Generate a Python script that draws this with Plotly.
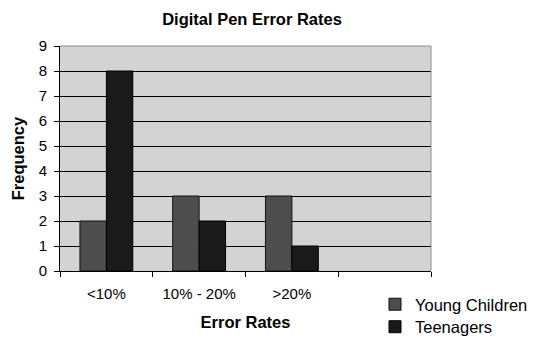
import plotly.graph_objects as go

# Error-rate bins on the x axis; the last slot is an empty spacer bin
categories = ["<10%", "10% - 20%", ">20%"]
axis_categories = categories + [" "]

young_children = [2, 3, 3]
teenagers = [8, 2, 1]

y_ticks = list(range(0, 10))

FONT = "Arial, 'Liberation Sans', Helvetica, sans-serif"
W, H = 536, 338

fig = go.Figure()
fig.add_trace(go.Bar(
    name="Young Children", x=categories, y=young_children,
    marker=dict(color="#4d4d4d", line=dict(color="#111111", width=1)),
    legend="legend",
))
fig.add_trace(go.Bar(
    name="Teenagers", x=categories, y=teenagers,
    marker=dict(color="#1a1a1a", line=dict(color="#000000", width=1)),
    legend="legend2",
))

legend_style = dict(
    xref="container", yref="container", xanchor="left", yanchor="middle",
    font=dict(family=FONT, size=16.5, color="#000000"),
    bgcolor="rgba(0,0,0,0)", borderwidth=0,
)

fig.update_layout(
    width=W, height=H,
    margin=dict(l=60, r=105, t=46, b=67, autoexpand=False),
    paper_bgcolor="white",
    plot_bgcolor="#d3d3d3",
    font=dict(family=FONT, size=15, color="#000000"),
    barmode="group",
    bargap=0.43,
    bargroupgap=0,
    title=dict(
        text="<b>Digital Pen Error Rates</b>",
        font=dict(family=FONT, size=16.5, color="#000000"),
        x=252 / W, xanchor="center", xref="container",
        y=1 - 19 / H, yanchor="middle", yref="container",
    ),
    legend=dict(x=375 / W, y=1 - 304.5 / H, **legend_style),
    legend2=dict(x=375 / W, y=1 - 327 / H, **legend_style),
    showlegend=True,
)

fig.update_xaxes(
    type="category",
    categoryorder="array", categoryarray=axis_categories,
    range=[-0.5, 3.5],
    tickson="boundaries",
    ticks="outside", ticklen=5, tickcolor="#000000", tickwidth=1,
    showline=True, linecolor="#000000", linewidth=1,
    showgrid=False,
    ticklabelstandoff=9,
    tickfont=dict(size=15),
    title=dict(text="<b>Error Rates</b>", font=dict(size=16.5), standoff=15),
)
fig.update_yaxes(
    range=[0, 9],
    tickvals=y_ticks,
    ticks="outside", ticklen=5, tickcolor="#000000", tickwidth=1,
    showline=True, linecolor="#000000", linewidth=1,
    showgrid=True, gridcolor="#000000", gridwidth=1,
    zeroline=False,
    ticklabelstandoff=4,
    tickfont=dict(size=15),
    title=dict(text="<b>Frequency</b>", font=dict(size=16.5), standoff=9),
)

# Gray frame on the top and right of the plot area
fig.add_shape(type="line", xref="x domain", yref="y domain",
              x0=0, x1=1, y0=1, y1=1, line=dict(color="#8c8c8c", width=1), layer="above")
fig.add_shape(type="line", xref="x domain", yref="y domain",
              x0=1, x1=1, y0=0, y1=1, line=dict(color="#8c8c8c", width=1), layer="above")

fig.write_html("out.html")
